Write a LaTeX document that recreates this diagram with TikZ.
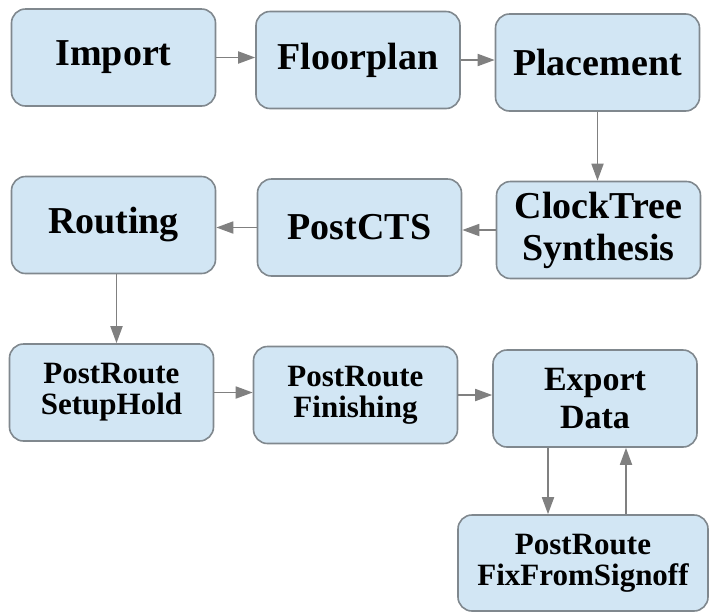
\documentclass[tikz,border=0pt]{standalone}
\usepackage{fontspec}
\setmainfont{Liberation Serif}
\usetikzlibrary{arrows.meta}
\definecolor{boxfill}{RGB}{210,230,244}
\definecolor{boxline}{RGB}{128,136,142}
\definecolor{flowgray}{RGB}{128,128,128}

\begin{document}
\begin{tikzpicture}[
  x=1pt,y=-1pt,
  stage/.style={draw=boxline,fill=boxfill,line width=1.6pt,rounded corners=14pt,
    minimum width=204pt,minimum height=97pt,align=center,inner sep=0pt},
  big/.style={font=\bfseries\fontsize{38}{42}\selectfont},
  mid/.style={font=\bfseries\fontsize{34}{38}\selectfont},
  small/.style={font=\bfseries\fontsize{31}{31}\selectfont},
  flow/.style={draw=flowgray,line width=1.8pt,-{Triangle[length=17pt,width=12pt]}}
]
\useasboundingbox (0,0) rectangle (710,614);

% first row
\node[stage,big] (import) at (113.5,57.5) {Import};
\node[stage,big] (floorplan) at (358,60) {Floorplan};
\node[stage,big] (placement) at (597.5,62.5) {Placement};

% second row
\node[stage,big] (clocktree) at (598.5,230) {ClockTree\\Synthesis};
\node[stage,big] (postcts) at (359.5,227.5) {PostCTS};
\node[stage,big] (routing) at (113.5,225) {Routing};

% third row
\node[stage,small] (setuphold) at (111.5,392.5) {PostRoute\\SetupHold};
\node[stage,small] (finishing) at (355.5,395) {PostRoute\\Finishing};
\node[stage,mid] (export) at (595,398.5) {Export\\Data};
\node[stage,small,minimum width=250pt,minimum height=96pt] (fixsignoff) at (583,563) {PostRoute\\FixFromSignoff};

\draw[flow] (import.east) -- (floorplan.west |- import.east);
\draw[flow] (floorplan.east) -- (placement.west |- floorplan.east);
\draw[flow] (placement.south) -- (placement.south |- clocktree.north);
\draw[flow] (clocktree.west) -- (postcts.east |- clocktree.west);
\draw[flow] (postcts.west) -- (routing.east |- postcts.west);
\draw[flow] ([xshift=3pt]routing.south) -- ([xshift=3pt]routing.south |- setuphold.north);
\draw[flow] (setuphold.east) -- (finishing.west |- setuphold.east);
\draw[flow] (finishing.east) -- (export.west |- finishing.east);
\draw[flow] ([xshift=-47pt]export.south) -- ([xshift=-47pt]export.south |- fixsignoff.north);
\draw[flow] ([xshift=43pt]fixsignoff.north |- fixsignoff.north) -- ([xshift=43pt]fixsignoff.north |- export.south);
\end{tikzpicture}
\end{document}
